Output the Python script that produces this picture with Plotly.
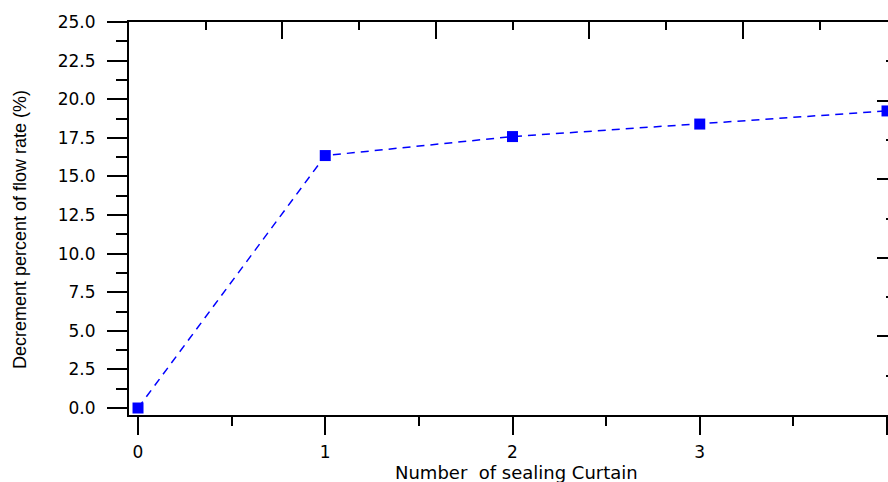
import plotly.graph_objects as go

# Data
curtains = [0, 1, 2, 3, 4]
decrement_pct = [0.0, 16.35, 17.58, 18.39, 19.24]

y_tick_vals = [0, 2.5, 5, 7.5, 10, 12.5, 15, 17.5, 20, 22.5, 25]
x_tick_vals = [0, 1, 2, 3, 4]

x_title = "Number  of sealing Curtain"
y_title = "Decrement percent of flow rate (%)"

W, H = 888, 482
L, R, T, B = 129, 0, 22, 67

fig = go.Figure()
fig.add_trace(go.Scatter(
    x=curtains, y=decrement_pct, mode="lines+markers",
    line=dict(color="#0000FF", width=1.5, dash="8px,6px"),
    marker=dict(symbol="square", size=11, color="#0000FF"),
    cliponaxis=False, showlegend=False,
))
# invisible traces to activate the decorative top / right axes
fig.add_trace(go.Scatter(x=[0], y=[0], xaxis="x2", yaxis="y", mode="markers",
                         marker=dict(opacity=0), showlegend=False, hoverinfo="skip"))
fig.add_trace(go.Scatter(x=[0], y=[0], xaxis="x", yaxis="y2", mode="markers",
                         marker=dict(opacity=0), showlegend=False, hoverinfo="skip"))

tickfont = dict(family="DejaVu Sans", size=17, color="black")

fig.update_layout(
    width=W, height=H,
    margin=dict(l=L, r=R, t=T, b=B, pad=0),
    paper_bgcolor="white", plot_bgcolor="white",
    xaxis=dict(
        range=[-0.0481, 4.0053], tickvals=x_tick_vals, ticktext=[str(v) for v in x_tick_vals],
        ticks="outside", ticklen=18, tickwidth=2, tickcolor="black",
        minor=dict(dtick=0.5, tick0=0, ticks="outside", ticklen=9, tickwidth=2, tickcolor="black"),
        showline=True, linewidth=2, linecolor="black", showgrid=False, zeroline=False,
        tickfont=tickfont, ticklabelstandoff=3,
    ),
    yaxis=dict(
        range=[-0.453, 25], tickvals=y_tick_vals, tickformat=".1f",
        ticks="outside", ticklen=20, tickwidth=2, tickcolor="black",
        minor=dict(dtick=1.25, tick0=0, ticks="outside", ticklen=11, tickwidth=2, tickcolor="black"),
        showline=True, linewidth=2, linecolor="black", showgrid=False, zeroline=False,
        tickfont=tickfont, ticklabelstandoff=8,
    ),
    xaxis2=dict(
        overlaying="x", side="top", range=[0, 4.945], dtick=1, tick0=0,
        ticks="inside", ticklen=17, tickwidth=2, tickcolor="black",
        minor=dict(dtick=0.5, tick0=0, ticks="inside", ticklen=8, tickwidth=2, tickcolor="black"),
        showline=True, linewidth=2, linecolor="black", showgrid=False, zeroline=False,
        showticklabels=False,
    ),
    yaxis2=dict(
        overlaying="y", side="right", range=[0, 5], dtick=1, tick0=0,
        ticks="inside", ticklen=11, tickwidth=2, tickcolor="black",
        minor=dict(dtick=0.5, tick0=0, ticks="inside", ticklen=2, tickwidth=2, tickcolor="black"),
        showline=False, showgrid=False, zeroline=False, showticklabels=False,
    ),
    annotations=[
        dict(text=x_title, xref="paper", yref="paper",
             x=(516.5 - L) / (W - L - R), y=(H - B - 473) / (H - T - B),
             xanchor="center", yanchor="middle", showarrow=False,
             font=dict(family="DejaVu Sans", size=18, color="black")),
        dict(text=y_title, xref="paper", yref="paper", textangle=-90,
             x=(20 - L) / (W - L - R), y=(H - B - 230) / (H - T - B),
             xanchor="center", yanchor="middle", showarrow=False,
             font=dict(family="Liberation Sans", size=18, color="black")),
    ],
)

fig.write_html("out.html")
